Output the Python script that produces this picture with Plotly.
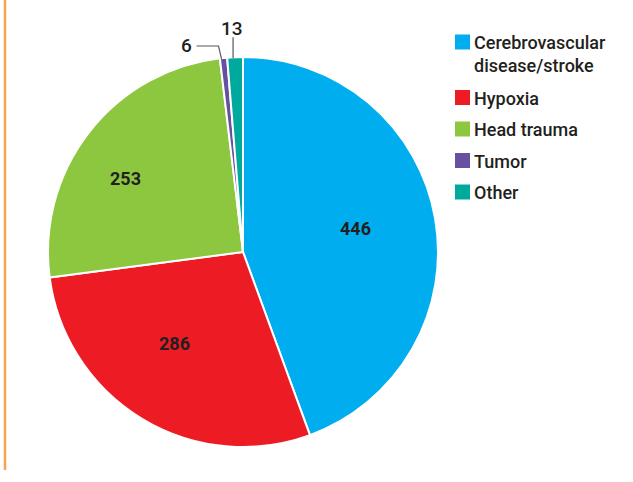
import math
import plotly.graph_objects as go

labels = ["Cerebrovascular<br>disease/stroke", "Hypoxia", "Head trauma", "Tumor", "Other"]
values = [446, 286, 253, 6, 13]
colors = ["#00AEEF", "#ED1C24", "#8DC63F", "#6650A1", "#00A99D"]

FONT = "Roboto, Lato, sans-serif"
TXT = "#231F20"
W, H = 633, 482
CX, CY, R = 243, 252, 195  # pie geometry in pixels

# inside label placement: (radius fraction, angle nudge in degrees); None = outside label
inside_pos = [(0.59, -1.8), (0.588, 5.8), (0.709, -5.7), None, None]

def px(x): return x / W
def py(y): return 1 - y / H

fig = go.Figure(go.Pie(
    labels=labels, values=values, sort=False, direction="clockwise", rotation=0,
    marker=dict(colors=colors, line=dict(color="white", width=2)),
    textinfo="none", showlegend=False,
    domain=dict(x=[px(CX - R), px(CX + R)], y=[py(CY + R), py(CY - R)]),
    hoverinfo="label+value",
))

annotations = []
shapes = []
total = sum(values)
cum = 0
for i, v in enumerate(values):
    mid = (cum + v / 2) / total * 2 * math.pi
    cum += v
    if inside_pos[i] is not None:
        frac, nudge = inside_pos[i]
        a = mid + math.radians(nudge)
        rr = R * frac
        annotations.append(dict(x=px(CX + rr * math.sin(a)), y=py(CY - rr * math.cos(a)),
                                xref="paper", yref="paper", xanchor="center", yanchor="middle",
                                text=f"<b>{v}</b>", showarrow=False,
                                font=dict(family=FONT, size=18, color=TXT)))
    else:
        s, c = math.sin(mid), math.cos(mid)
        ax, ay = CX + R * s - 2, CY - R * c + 1
        if labels[i] == "Tumor":
            ex, ey = ax - 3, ay - 13
            hx = ex - 22
            shapes.append(dict(type="path", xref="paper", yref="paper",
                               path=f"M{px(ax)},{py(ay)} L{px(ex)},{py(ey)} L{px(hx)},{py(ey)}",
                               line=dict(color="#555555", width=1.2)))
            annotations.append(dict(x=px(hx - 3), y=py(ey), xref="paper", yref="paper",
                                    text=str(v), showarrow=False, xanchor="right", yanchor="middle",
                                    font=dict(family=FONT, size=19, color=TXT, weight=500)))
        else:
            ey = ay - 21
            shapes.append(dict(type="line", xref="paper", yref="paper",
                               x0=px(ax), y0=py(ay), x1=px(ax), y1=py(ey),
                               line=dict(color="#555555", width=1.2)))
            annotations.append(dict(x=px(ax - 1), y=py(ey - 9), xref="paper", yref="paper",
                                    text=str(v), showarrow=False, xanchor="center", yanchor="middle",
                                    font=dict(family=FONT, size=19, color=TXT, weight=500)))

# custom legend
LX, LY0 = 455, 42
row_y = LY0
for lab, col in zip(labels, colors):
    nlines = lab.count("<br>") + 1
    shapes.append(dict(type="rect", xref="paper", yref="paper",
                       x0=px(LX), x1=px(LX + 15), y0=py(row_y + 7.5), y1=py(row_y - 7.5),
                       fillcolor=col, line=dict(width=0)))
    annotations.append(dict(x=px(LX + 17), y=py(row_y - 12), xref="paper", yref="paper",
                            text=lab, showarrow=False, xanchor="left", yanchor="top", align="left",
                            font=dict(family=FONT, size=18, color=TXT, weight=500)))
    row_y += 24 * (nlines - 1) + 31.5

shapes.append(dict(type="line", xref="paper", yref="paper", x0=px(5), x1=px(5), y0=py(470), y1=1,
                   line=dict(color="#F7A451", width=2.5)))

fig.update_layout(
    width=W, height=H, margin=dict(l=0, r=0, t=0, b=0),
    paper_bgcolor="white", plot_bgcolor="white",
    font=dict(family=FONT, color=TXT),
    annotations=annotations, shapes=shapes,
)

fig.write_html("out.html", config={"displayModeBar": False},
               post_script="document.body.style.margin='0';document.body.style.overflow='hidden';")
